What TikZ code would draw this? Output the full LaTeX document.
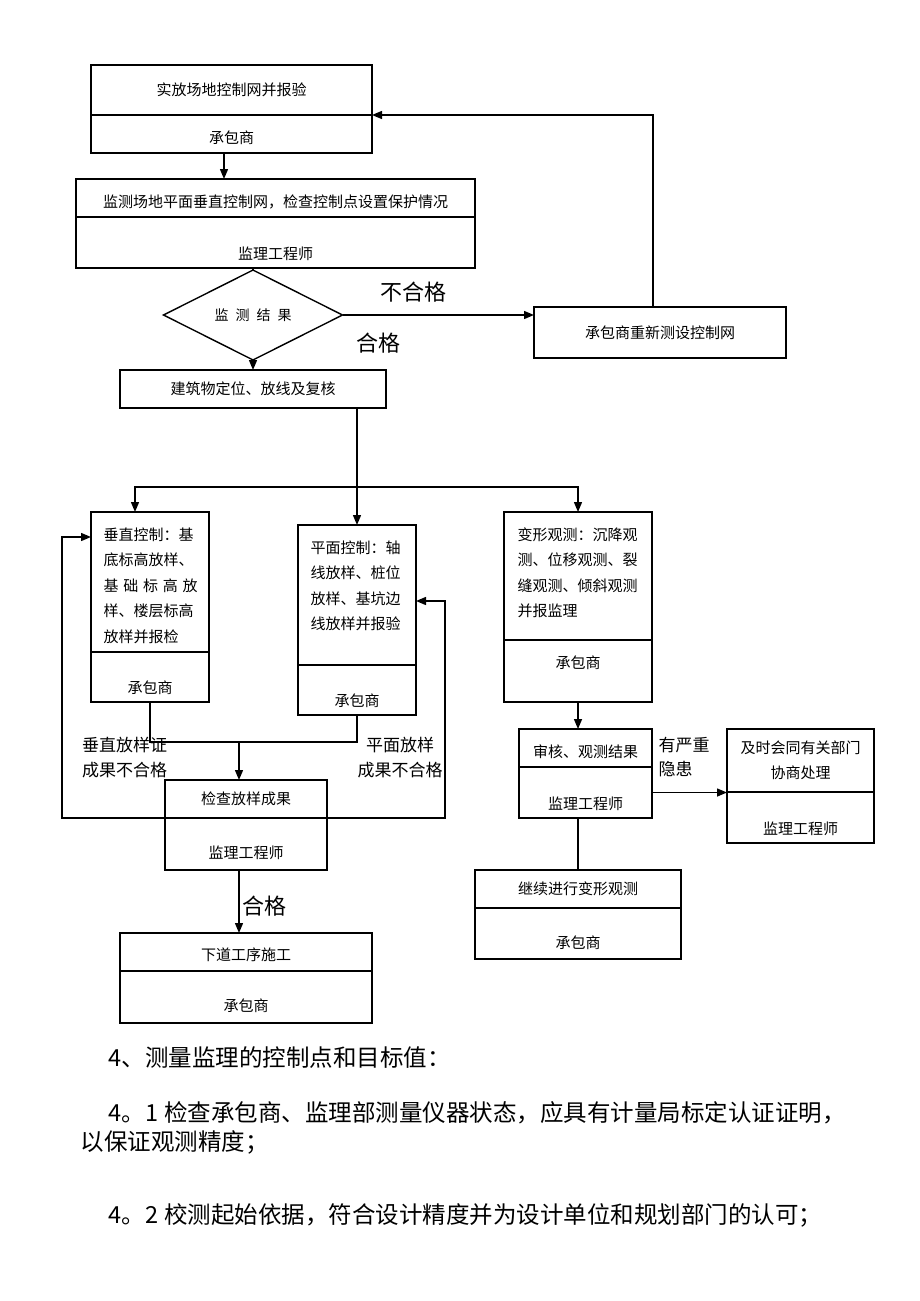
\documentclass[tikz,border=0pt]{standalone}
\usepackage{fontspec}
\newfontfamily\cjk{Noto Sans CJK SC}
\usetikzlibrary{shapes.geometric, arrows.meta, positioning}

\begin{document}
\begin{tikzpicture}[x=1pt, y=-1pt, line width=1.4pt, > = {Triangle[length=10pt,width=8pt]},
    part/.style={draw, rectangle, inner sep=0pt, outer sep=0pt, font=\cjk\fontsize{15}{18}\selectfont},
    low/.style={text height=#1, text depth=0pt},
    high/.style={text height=0pt, text depth=#1},
    lines/.style={inner sep=0pt, anchor=north west, align=left, font=\cjk\fontsize{15}{25.5}\selectfont},
    big/.style={inner sep=0pt, font=\cjk\fontsize{22}{26}\selectfont},
    note/.style={inner sep=0pt, align=#1, font=\cjk\fontsize{17}{24.5}\selectfont},
    body/.style={inner sep=0pt, anchor=west, font=\cjk\fontsize{23.5}{28}\selectfont}]
    \useasboundingbox (0,0) rectangle (920,1301);

    % upper part
    \node[part, minimum width=281pt, minimum height=50pt, anchor=north west] (shifang) at (91,65) {实放场地控制网并报验};
    \node[part, minimum width=281pt, minimum height=38pt, below=0pt of shifang, low=19.4pt] (shifang-b) {承包商};
    \node[part, minimum width=399pt, minimum height=38pt, anchor=north west, low=19.4pt] (jiance) at (76,179) {监测场地平面垂直控制网，检查控制点设置保护情况};
    \node[part, minimum width=399pt, minimum height=51pt, below=0pt of jiance, low=33.4pt] (jiance-b) {监理工程师};
    \node[draw, diamond, minimum width=179pt, minimum height=64pt, inner sep=0pt, outer sep=0pt, font=\cjk\fontsize{14}{16}\selectfont] (jieguo) at (253,315) {监\hspace{7pt}测\hspace{7pt}结\hspace{7pt}果};
    \node[part, minimum width=252pt, minimum height=51pt, anchor=north west] (chongce) at (534,307) {承包商重新测设控制网};
    \node[part, minimum width=266pt, minimum height=38pt, anchor=north west] (fangxian) at (120,370) {建筑物定位、放线及复核};

    \draw[->] ([xshift=-7.5pt]shifang-b.south) -- ([xshift=-7.5pt]shifang-b.south |- jiance.north);
    \draw (jiance-b.south -| jieguo.north) -- (jieguo.north);
    \draw[->] (jieguo.south) -- (fangxian.north);
    \draw[->] (jieguo.east) -- (jieguo.east -| chongce.west);
    \draw[->] ([xshift=-7pt]chongce.north) |- (shifang.south east);
    \node[big] (buhege) at (413,292) {不合格};
    \node[big] (hege) at (378,343) {合格};

    % three branches
    \node[part, minimum width=118pt, minimum height=140pt, anchor=north west] (chuizhi) at (91,512) {};
    \node[part, minimum width=118pt, minimum height=50pt, below=0pt of chuizhi, low=33.4pt] (chuizhi-b) {承包商};
    \node[lines] (chuizhi-t) at (103,527) {垂直控制：基\\底标高放样、\\\makebox[94pt][s]{基\hfill 础\hfill 标\hfill 高\hfill 放}\\样、楼层标高\\放样并报检};
    \node[part, minimum width=118pt, minimum height=140pt, anchor=north west] (pingmian) at (298,525) {};
    \node[part, minimum width=118pt, minimum height=50pt, below=0pt of pingmian, low=33.4pt] (pingmian-b) {承包商};
    \node[lines] (pingmian-t) at (310,540) {平面控制：轴\\线放样、桩位\\放样、基坑边\\线放样并报验};
    \node[part, minimum width=148pt, minimum height=128pt, anchor=north west] (bianxing) at (504,512) {};
    \node[part, minimum width=148pt, minimum height=62pt, below=0pt of bianxing, high=4.6pt] (bianxing-b) {承包商};
    \node[lines] (bianxing-t) at (517,527) {变形观测：沉降观\\测、位移观测、裂\\缝观测、倾斜观测\\并报监理};

    \coordinate (fencha) at (357,487);
    \draw (fangxian.south -| fencha) -- (fencha);
    \draw[->] (fencha) -- (pingmian.north);
    \draw[->] (fencha) -| ([xshift=-15pt]chuizhi.north);
    \draw[->] (fencha) -| (bianxing.north);

    % checking of the setting out
    \node[part, minimum width=162pt, minimum height=38pt, anchor=north west] (jiancha) at (165,780) {检查放样成果};
    \node[part, minimum width=162pt, minimum height=52pt, below=0pt of jiancha, low=29.4pt] (jiancha-b) {监理工程师};
    \node[part, minimum width=252pt, minimum height=38pt, anchor=north west, low=17.4pt] (xiadao) at (120,933) {下道工序施工};
    \node[part, minimum width=252pt, minimum height=52pt, below=0pt of xiadao, low=29.4pt] (xiadao-b) {承包商};

    \coordinate (hebing) at (239,742);
    \draw (chuizhi-b.south) |- (hebing) -| (pingmian-b.south);
    \draw[->] (hebing) -- (hebing |- jiancha.north);
    \draw[->] (jiancha.south west) -- ++(-103,0) |- ([yshift=-25pt]chuizhi.north west);
    \draw[->] (jiancha.south east) -- ++(118,0) |- ([yshift=-76pt]pingmian.north east);
    \draw[->] ([xshift=-7pt]jiancha-b.south) -- ([xshift=-7pt]jiancha-b.south |- xiadao.north);
    \node[note=left] (chuizhi-bad) at (124.5,757.5) {垂直放样证\\成果不合格};
    \node[note=center] (pingmian-bad) at (400,757.5) {平面放样\\成果不合格};
    \node[big] (hege-2) at (264,906) {合格};

    % deformation branch
    \node[part, minimum width=133pt, minimum height=38pt, anchor=north west, low=19.4pt] (shenhe) at (519,729) {审核、观测结果};
    \node[part, minimum width=133pt, minimum height=51pt, below=0pt of shenhe, low=33.4pt] (shenhe-b) {监理工程师};
    \node[part, minimum width=147pt, minimum height=63pt, anchor=north west, align=center, font=\cjk\fontsize{15}{25}\selectfont] (jishi) at (727,729) {及时会同有关部门\\协商处理};
    \node[part, minimum width=147pt, minimum height=51pt, below=0pt of jishi, low=34.4pt] (jishi-b) {监理工程师};
    \node[part, minimum width=206pt, minimum height=38pt, anchor=north west] (jixu) at (475,870) {继续进行变形观测};
    \node[part, minimum width=206pt, minimum height=51pt, below=0pt of jixu, low=30.4pt] (jixu-b) {承包商};

    \draw[->] (bianxing-b.south) -- (bianxing-b.south |- shenhe.north);
    \draw[->] (shenhe-b.east) -- (shenhe-b.east -| jishi.west);
    \draw (jixu.north |- shenhe-b.south) -- (jixu.north);
    \node[note=left, anchor=west] (yinhuan) at (658,757) {有严重\\隐患};

    % text below the chart
    \node[body] (mubiao) at (108,1058) {4、测量监理的控制点和目标值：};
    \node[body] (yiqi) at (108,1113) {4。1\hspace{6pt}检查承包商、监理部测量仪器状态，应具有计量局标定认证证明，};
    \node[body] (jingdu) at (80,1142) {以保证观测精度；};
    \node[body] (yiju) at (108,1215) {4。2\hspace{6pt}校测起始依据，符合设计精度并为设计单位和规划部门的认可；};
\end{tikzpicture}
\end{document}
